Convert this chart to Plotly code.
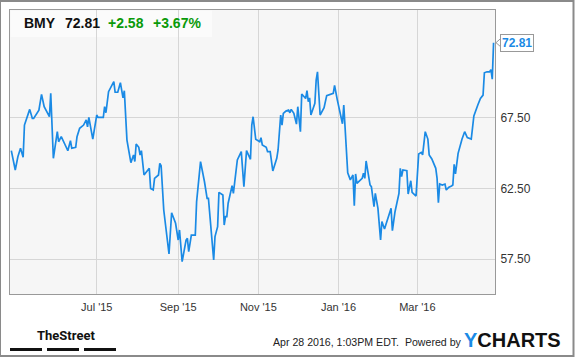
import plotly.graph_objects as go

dates = [
    "2015-04-27", "2015-04-30", "2015-05-02", "2015-05-04", "2015-05-06", "2015-05-07",
    "2015-05-11", "2015-05-13", "2015-05-14", "2015-05-16", "2015-05-18", "2015-05-20",
    "2015-05-22", "2015-05-26", "2015-05-27", "2015-05-29", "2015-06-01", "2015-06-02",
    "2015-06-04", "2015-06-07", "2015-06-09", "2015-06-11", "2015-06-12", "2015-06-15",
    "2015-06-16", "2015-06-18", "2015-06-21", "2015-06-23", "2015-06-24", "2015-06-25",
    "2015-06-28", "2015-07-01", "2015-07-02", "2015-07-06", "2015-07-07", "2015-07-08",
    "2015-07-10", "2015-07-14", "2015-07-15", "2015-07-17", "2015-07-19", "2015-07-21",
    "2015-07-22", "2015-07-24", "2015-07-27", "2015-07-29", "2015-07-30", "2015-07-31",
    "2015-08-02", "2015-08-03", "2015-08-04", "2015-08-06", "2015-08-08", "2015-08-10",
    "2015-08-11", "2015-08-13", "2015-08-14", "2015-08-17", "2015-08-18", "2015-08-19",
    "2015-08-21", "2015-08-25", "2015-08-27", "2015-08-30", "2015-09-01", "2015-09-02",
    "2015-09-04", "2015-09-07", "2015-09-08", "2015-09-09", "2015-09-11", "2015-09-14",
    "2015-09-15", "2015-09-18", "2015-09-21", "2015-09-23", "2015-09-24", "2015-09-26",
    "2015-09-28", "2015-09-29", "2015-10-01", "2015-10-02", "2015-10-05", "2015-10-06",
    "2015-10-07", "2015-10-08", "2015-10-09", "2015-10-12", "2015-10-13", "2015-10-16",
    "2015-10-19", "2015-10-21", "2015-10-23", "2015-10-26", "2015-10-27", "2015-10-28",
    "2015-10-30", "2015-11-02", "2015-11-03", "2015-11-04", "2015-11-07", "2015-11-08",
    "2015-11-10", "2015-11-12", "2015-11-15", "2015-11-16", "2015-11-18", "2015-11-19",
    "2015-11-20", "2015-11-22", "2015-11-24", "2015-11-25", "2015-11-26", "2015-11-28",
    "2015-11-30", "2015-12-01", "2015-12-03", "2015-12-04", "2015-12-06", "2015-12-07",
    "2015-12-08", "2015-12-09", "2015-12-10", "2015-12-11", "2015-12-14", "2015-12-15",
    "2015-12-16", "2015-12-18", "2015-12-21", "2015-12-23", "2015-12-28", "2015-12-29",
    "2015-12-31", "2016-01-04", "2016-01-05", "2016-01-07", "2016-01-08", "2016-01-10",
    "2016-01-12", "2016-01-13", "2016-01-14", "2016-01-15", "2016-01-19", "2016-01-20",
    "2016-01-21", "2016-01-22", "2016-01-25", "2016-01-26", "2016-01-28", "2016-01-29",
    "2016-01-31", "2016-02-02", "2016-02-03", "2016-02-05", "2016-02-07", "2016-02-10",
    "2016-02-11", "2016-02-13", "2016-02-16", "2016-02-17", "2016-02-18", "2016-02-19",
    "2016-02-22", "2016-02-23", "2016-02-25", "2016-02-26", "2016-02-29", "2016-03-01",
    "2016-03-02", "2016-03-04", "2016-03-05", "2016-03-07", "2016-03-09", "2016-03-10",
    "2016-03-12", "2016-03-15", "2016-03-16", "2016-03-17", "2016-03-18", "2016-03-20",
    "2016-03-22", "2016-03-23", "2016-03-25", "2016-03-27", "2016-03-28", "2016-03-29",
    "2016-03-30", "2016-04-01", "2016-04-03", "2016-04-04", "2016-04-06", "2016-04-08",
    "2016-04-11", "2016-04-13", "2016-04-16", "2016-04-18", "2016-04-20", "2016-04-21",
    "2016-04-23", "2016-04-25", "2016-04-26", "2016-04-27", "2016-04-28",
]

prices = [
    65.17, 63.80, 64.74, 65.34, 64.70, 66.98,
    68.09, 67.45, 67.45, 67.80, 68.04, 69.15,
    68.28, 67.57, 69.22, 64.63, 66.51, 65.80,
    66.16, 65.57, 65.17, 65.87, 65.34, 65.41,
    66.16, 66.75, 66.98, 67.34, 66.86, 67.53,
    65.99, 67.69, 67.53, 67.53, 68.28, 67.85,
    69.34, 70.05, 69.30, 69.30, 69.98, 68.91,
    69.41, 65.92, 64.32, 64.86, 64.40, 65.64,
    65.41, 64.86, 65.17, 63.45, 63.68, 63.92,
    62.50, 62.39, 63.21, 63.45, 64.27, 64.10,
    60.97, 57.86, 60.78, 60.03, 58.85, 59.56,
    57.32, 58.85, 58.97, 58.02, 59.20, 59.20,
    61.56, 64.39, 62.97, 61.80, 61.80, 59.79,
    57.44, 59.09, 59.79, 62.22, 62.03, 59.91,
    60.50, 60.50, 61.45, 62.69, 62.15, 64.51,
    65.10, 62.62, 65.17, 64.56, 66.98, 67.57,
    65.97, 65.80, 66.09, 65.57, 65.41, 65.10,
    65.10, 63.73, 64.63, 65.22, 67.69, 66.98,
    67.81, 67.97, 68.04, 67.85, 68.09, 67.81,
    67.05, 68.28, 66.51, 69.18, 68.98, 68.86,
    69.41, 68.63, 68.90, 67.69, 68.52, 70.17,
    70.75, 67.69, 68.21, 69.06, 69.22, 69.79,
    68.80, 67.07, 68.40, 65.69, 63.60, 63.10,
    63.45, 61.28, 63.52, 62.86, 63.21, 63.57,
    63.21, 64.44, 62.74, 62.62, 61.21, 62.15,
    61.09, 58.85, 60.15, 59.63, 60.27, 61.09,
    59.51, 60.85, 62.15, 63.92, 63.33, 63.80,
    63.75, 62.10, 63.04, 62.22, 61.96, 63.45,
    64.93, 65.05, 64.87, 66.51, 65.99, 64.86,
    64.58, 63.92, 63.21, 61.49, 62.81, 62.74,
    62.81, 62.39, 62.58, 62.67, 62.74, 64.20,
    63.52, 64.98, 65.80, 65.99, 66.51, 66.09,
    65.99, 67.62, 68.40, 68.87, 69.10, 70.68,
    70.75, 70.75, 70.90, 70.23, 72.81,
]

x_tick_vals = ["2015-07-01", "2015-09-01", "2015-11-01", "2016-01-01", "2016-03-01"]
x_tick_text = ["Jul '15", "Sep '15", "Nov '15", "Jan '16", "Mar '16"]
y_tick_vals = [57.5, 62.5, 67.5]
y_tick_text = ["57.50", "62.50", "67.50"]

ticker = "BMY"
last_price = "72.81"
change = "+2.58"
change_pct = "+3.67%"

FONT = "Liberation Sans, Arial, sans-serif"
BLUE = "#1a8ae5"
GREEN = "#0a9a0a"

fig = go.Figure()
fig.add_trace(go.Scatter(
    x=dates, y=prices, mode="lines",
    line=dict(color=BLUE, width=1.7),
    hoverinfo="skip", showlegend=False,
))

fig.update_layout(
    width=575, height=358,
    margin=dict(l=10, r=80, t=10, b=64),
    paper_bgcolor="white",
    plot_bgcolor="#f6f6f6",
    font=dict(family=FONT, color="#333333"),
    xaxis=dict(
        type="date",
        range=["2015-04-26", "2016-04-29 02:00"],
        tickvals=x_tick_vals, ticktext=x_tick_text,
        showgrid=True, gridcolor="#d6d6d6", gridwidth=1,
        zeroline=False, ticks="",
        tickfont=dict(size=11, color="#333333"),
        ticklabelstandoff=3,
        showline=True, linecolor="#999999", linewidth=1, mirror=True,
    ),
    yaxis=dict(
        side="right",
        range=[55.03, 75.12],
        tickvals=y_tick_vals, ticktext=y_tick_text,
        showgrid=True, gridcolor="#d6d6d6", gridwidth=1,
        zeroline=False, ticks="",
        tickfont=dict(size=12, color="#333333"),
        ticklabelstandoff=2,
        showline=True, linecolor="#999999", linewidth=1, mirror=True,
    ),
)

shapes = []
# outer frame
shapes.append(dict(type="rect", xref="paper", yref="paper",
                   x0=-10 / 485, x1=563.5 / 485, y0=(294 - 356) / 284, y1=(294 - 1) / 284,
                   line=dict(color="#8a8a8a", width=2), fillcolor="rgba(0,0,0,0)", layer="above"))
# header box
shapes.append(dict(type="rect", xref="paper", yref="paper",
                   x0=0.5 / 485, x1=202 / 485, y0=(294 - 37) / 284, y1=(294 - 10.5) / 284,
                   line=dict(width=0), fillcolor="rgba(255,255,255,0.55)", layer="below"))
# TheStreet bars
for bx0, bx1 in [(10, 42), (47, 79), (84, 116)]:
    shapes.append(dict(type="rect", xref="paper", yref="paper",
                       x0=(bx0 - 10) / 485, x1=(bx1 - 10) / 485,
                       y0=(294 - 351) / 284, y1=(294 - 348) / 284,
                       line=dict(width=0), fillcolor="#111111"))
# price label notch
px = 1 / 485
pyu = 1 / 14.14
shapes.append(dict(type="path", xref="paper", yref="y",
                   path=f"M {1 + 5.5*px},{72.81 + 4*pyu} L {1 + 1*px},{72.81} L {1 + 5.5*px},{72.81 - 4*pyu} Z",
                   fillcolor="white", line=dict(color="#999999", width=1), layer="above"))
fig.update_layout(shapes=shapes)

ann = []
def paper_x(px_):
    return (px_ - 10) / 485
def paper_y(py_):
    return (294 - py_) / 284

ann.append(dict(xref="paper", yref="paper", x=paper_x(22), y=paper_y(23), xanchor="left", yanchor="middle",
                text=f"<b>{ticker}</b>", showarrow=False, font=dict(size=14, color="#111111")))
ann.append(dict(xref="paper", yref="paper", x=paper_x(63), y=paper_y(23), xanchor="left", yanchor="middle",
                text=f"<b>{last_price}</b>", showarrow=False, font=dict(size=14, color="#111111")))
ann.append(dict(xref="paper", yref="paper", x=paper_x(106), y=paper_y(23), xanchor="left", yanchor="middle",
                text=f"<b>{change}</b>", showarrow=False, font=dict(size=14, color=GREEN)))
ann.append(dict(xref="paper", yref="paper", x=paper_x(151), y=paper_y(23), xanchor="left", yanchor="middle",
                text=f"<b>{change_pct}</b>", showarrow=False, font=dict(size=14, color=GREEN)))
# last price label
ann.append(dict(xref="paper", yref="y", x=1, y=prices[-1], xanchor="left", yanchor="middle", xshift=5,
                text=f"<b>{last_price}</b>", showarrow=False,
                font=dict(size=12, color=BLUE), bgcolor="white",
                bordercolor="#999999", borderwidth=1, borderpad=1))
# footer
ann.append(dict(xref="paper", yref="paper", x=paper_x(35), y=paper_y(335), xanchor="left", yanchor="middle",
                text="<b>TheStreet</b>", showarrow=False,
                font=dict(size=13, color="#111111", family="Roboto, " + FONT)))
ann.append(dict(xref="paper", yref="paper", x=paper_x(271), y=paper_y(342), xanchor="left", yanchor="middle",
                text="Apr 28 2016, 1:03PM EDT.  Powered by", showarrow=False,
                font=dict(size=10.6, color="#222222")))
ann.append(dict(xref="paper", yref="paper", x=paper_x(462), y=paper_y(340), xanchor="left", yanchor="middle",
                text=f"<b><span style='color:{BLUE}'>Y</span>CHARTS</b>", showarrow=False,
                font=dict(size=20, color="#111111", family="Liberation Sans, Arial, sans-serif")))
fig.update_layout(annotations=ann)

fig.write_html("out.html")
